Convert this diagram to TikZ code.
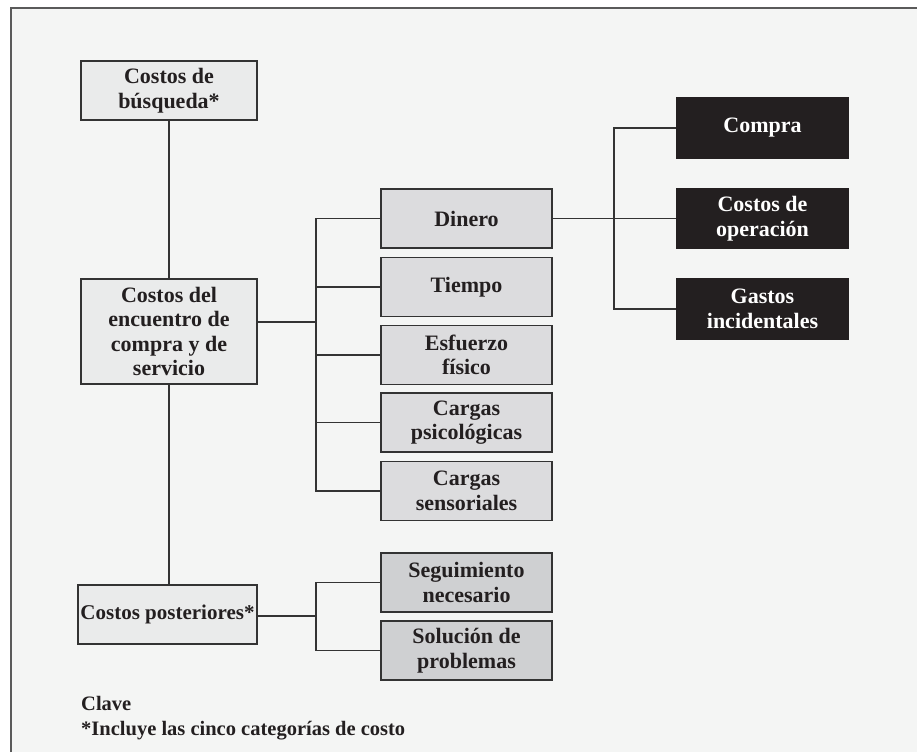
\documentclass[tikz,border=0pt]{standalone}
\usepackage{fontspec}
\setmainfont{Liberation Serif}
\definecolor{bgc}{HTML}{F4F5F4}
\definecolor{framec}{HTML}{5A5A5A}
\definecolor{linec}{HTML}{333333}
\definecolor{inkc}{HTML}{231F20}
\definecolor{lightfill}{HTML}{EAEBEB}
\definecolor{midfill}{HTML}{DCDCDE}
\definecolor{darkfill}{HTML}{CFD0D2}
\definecolor{blackfill}{HTML}{231F20}
\tikzset{
  box/.style={draw=linec, line width=1.4pt, rectangle, align=center, inner sep=0pt,
    font=\fontsize{22}{24.5}\selectfont\bfseries, text=inkc},
  leftbox/.style={box, fill=lightfill, minimum width=176pt},
  midbox/.style={box, fill=midfill, minimum width=171pt, minimum height=59pt},
  greybox/.style={box, fill=darkfill, minimum width=171pt, minimum height=59pt},
  blackbox/.style={box, fill=blackfill, draw=blackfill, text=white, minimum width=171pt, minimum height=60pt},
  conn/.style={draw=linec, line width=1.4pt},
  keytext/.style={anchor=base west, inner sep=0pt, font=\fontsize{20.5}{24}\selectfont\bfseries, text=inkc}
}
\begin{document}
\begin{tikzpicture}[x=1pt,y=-1pt]
\useasboundingbox (0,0) rectangle (917,752);
\fill[white] (0,0) rectangle (917,752);
\fill[bgc] (10.5,8.5) rectangle (917,752);
\draw[framec, line width=2pt] (10.5,752) -- (10.5,8.5) -- (917,8.5);

% left column
\node[leftbox, minimum height=59pt] (busq) at (169,90.5) {Costos de\\búsqueda*};
\node[leftbox, minimum height=105pt] (enc) at (169,331.5) {Costos del\\encuentro de\\compra y de\\servicio};
\node[leftbox, minimum width=179pt, minimum height=59pt, font=\fontsize{21}{24}\selectfont\bfseries] (post) at (167.5,614.5) {Costos posteriores*};

% middle column
\node[midbox] (dinero) at (466.5,218.5) {Dinero};
\node[midbox] (tiempo) at (466.5,287) {Tiempo};
\node[midbox] (esf) at (466.5,355) {Esfuerzo\\físico};
\node[midbox] (psic) at (466.5,422.5) {Cargas\\psicológicas};
\node[midbox] (sens) at (466.5,491) {Cargas\\sensoriales};

\node[greybox] (seg) at (466.5,582.5) {Seguimiento\\necesario};
\node[greybox] (sol) at (466.5,650.5) {Solución de\\problemas};

% right column
\node[blackbox] (compra) at (762.5,128) {Compra};
\node[blackbox] (oper) at (762.5,218.5) {Costos de\\operación};
\node[blackbox] (gastos) at (762.5,309) {Gastos\\incidentales};

% trunks
\coordinate (tA) at (316,322);
\coordinate (tB) at (316,616);
\coordinate (tC) at (614,218.5);

% connectors
\draw[conn] (busq.south) -- (enc.north);
\draw[conn] (enc.south) -- (enc.south |- post.north);

\draw[conn] (enc.east |- tA) -- (tA);
\draw[conn] (dinero.west) -| (tA |- sens.west) -- (sens.west);
\draw[conn] (tA |- tiempo.west) -- (tiempo.west);
\draw[conn] (tA |- esf.west) -- (esf.west);
\draw[conn] (tA |- psic.west) -- (psic.west);

\draw[conn] (post.east |- tB) -- (tB);
\draw[conn] (seg.west) -| (tB |- sol.west) -- (sol.west);

\draw[conn] (dinero.east) -- (oper.west);
\draw[conn] (compra.west) -| (tC |- gastos.west) -- (gastos.west);

% key
\node[keytext] (clave) at (81,710) {Clave};
\node[keytext] (nota) at (81,735) {*Incluye las cinco categorías de costo};
\end{tikzpicture}
\end{document}
